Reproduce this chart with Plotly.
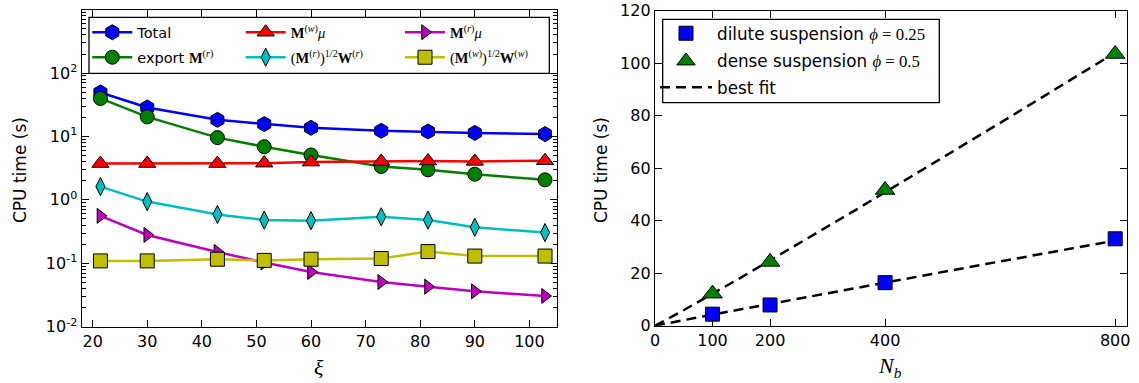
import numpy as np
import plotly.graph_objects as go

W, H = 1139, 383

# ---------------- data: left panel ----------------
xi = [21.43, 30.0, 42.86, 51.43, 60.0, 72.86, 81.43, 90.0, 102.86]
t_total = [49.5, 28.7, 18.3, 15.7, 13.7, 12.3, 12.0, 11.4, 10.9]
t_export = [39.8, 20.4, 9.6, 6.9, 5.1, 3.36, 2.98, 2.54, 2.07]
t_mw_mu = [3.75, 3.75, 3.75, 3.8, 3.95, 4.05, 4.1, 4.05, 4.15]
t_mr_sqrt_wr = [1.62, 0.94, 0.59, 0.48, 0.47, 0.54, 0.48, 0.37, 0.305]
t_mr_mu = [0.56, 0.28, 0.151, 0.103, 0.073, 0.0507, 0.0428, 0.0361, 0.0305]
t_mw_sqrt_ww = [0.109, 0.109, 0.116, 0.111, 0.116, 0.119, 0.153, 0.13, 0.13]

# ---------------- data: right panel ----------------
Nb = [100, 200, 400, 800]
t_dilute = [4.4, 7.9, 16.4, 33.1]
t_dense = [12.2, 24.3, 51.7, 103.5]

left_yticks = [0.01, 0.1, 1, 10, 100]
left_yticktext = ["10<sup>-2</sup>", "10<sup>-1</sup>", "10<sup>0</sup>", "10<sup>1</sup>", "10<sup>2</sup>"]
left_xticks = [20, 30, 40, 50, 60, 70, 80, 90, 100]
right_xticks = [0, 100, 200, 400, 800]
right_yticks = [0, 20, 40, 60, 80, 100, 120]

SERIF = "Liberation Serif"
SANS = "DejaVu Sans"


def m(s):
    return "<span style='font-family:%s'>%s</span>" % (SERIF, s)


lab_total = "Total"
lab_export = "export " + m("<b>M</b><sup>(<i>r</i>)</sup>")
lab_mw_mu = m("<b>M</b><sup>(<i>w</i>)</sup><i>μ</i>")
lab_mr_sqrt = m("(<b>M</b><sup>(<i>r</i>)</sup>)<sup>1/2</sup><b>W</b><sup>(<i>r</i>)</sup>")
lab_mr_mu = m("<b>M</b><sup>(<i>r</i>)</sup><i>μ</i>")
lab_mw_sqrt = m("(<b>M</b><sup>(<i>w</i>)</sup>)<sup>1/2</sup><b>W</b><sup>(<i>w</i>)</sup>")

fig = go.Figure()

left_series = [
    (t_total, "#0000FF", "hexagon", 15, lab_total, "legend"),
    (t_export, "#008000", "circle", 14, lab_export, "legend2"),
    (t_mw_mu, "#FF0000", "triangle-up", 15, lab_mw_mu, "legend3"),
    (t_mr_sqrt_wr, "#00BFBF", "diamond-tall", 13, lab_mr_sqrt, "legend4"),
    (t_mr_mu, "#BF00BF", "triangle-right", 13, lab_mr_mu, "legend5"),
    (t_mw_sqrt_ww, "#BFBF00", "square", 14, lab_mw_sqrt, "legend6"),
]
for ys, col, sym, sz, lab, lg in left_series:
    fig.add_trace(go.Scatter(
        x=xi, y=ys, mode="lines+markers", name=lab, legend=lg,
        line=dict(color=col, width=2.5),
        marker=dict(symbol=sym, size=sz, color=col, line=dict(color="black", width=1)),
        xaxis="x", yaxis="y",
    ))

# power-law best fits computed from the data
Nfit = np.linspace(0, 800, 161)
fits = []
for ys in (t_dilute, t_dense):
    b, loga = np.polyfit(np.log(Nb), np.log(ys), 1)
    fits.append(np.exp(loga) * Nfit ** b)

for i, f in enumerate(fits):
    fig.add_trace(go.Scatter(
        x=Nfit, y=f, mode="lines", name="best fit", legend="legend9",
        showlegend=(i == 0), line=dict(color="black", width=2.5, dash="10px,6px"),
        xaxis="x2", yaxis="y2",
    ))

phi = lambda v: m("<i>ϕ</i> = " + v)
fig.add_trace(go.Scatter(
    x=Nb, y=t_dilute, mode="markers", name="dilute suspension " + phi("0.25"), legend="legend7",
    marker=dict(symbol="square", size=14, color="#0000FF", line=dict(color="black", width=1)),
    xaxis="x2", yaxis="y2",
))
fig.add_trace(go.Scatter(
    x=Nb, y=t_dense, mode="markers", name="dense suspension " + phi("0.5"), legend="legend8",
    marker=dict(symbol="triangle-up", size=17, color="#008000", line=dict(color="black", width=1)),
    xaxis="x2", yaxis="y2",
))

px = lambda v: v / W
py = lambda v: 1 - v / H

ydom = [py(326.7), py(10.0)]
axis_common = dict(
    showgrid=False, zeroline=False, showline=True, linecolor="black", linewidth=1.3,
    mirror="ticks", ticks="inside", ticklen=7, tickwidth=1, tickcolor="black",
    tickfont=dict(family=SANS, size=16, color="black"), automargin=False,
)

minor_log = [k * 10.0 ** e for e in range(-2, 3) for k in range(2, 10)]

fig.update_layout(
    width=W, height=H, margin=dict(l=0, r=0, t=0, b=0),
    paper_bgcolor="white", plot_bgcolor="white", template="none",
    xaxis=dict(domain=[px(81.7), px(556.7)], range=[18, 105], tickvals=left_xticks,
               anchor="y", **axis_common),
    yaxis=dict(domain=ydom, type="log", range=[-2, 2.995], tickvals=left_yticks,
               ticktext=left_yticktext, anchor="x",
               minor=dict(tickvals=minor_log, ticks="inside", ticklen=4, tickcolor="black", showgrid=False),
               **axis_common),
    xaxis2=dict(domain=[px(655), px(1126.7)], range=[0, 820], tickvals=right_xticks,
                anchor="y2", **axis_common),
    yaxis2=dict(domain=[py(325.7), py(10.7)], range=[0, 120], tickvals=right_yticks,
                anchor="x2", **axis_common),
    showlegend=True,
)


def leg(xp, yp, size, iw):
    return dict(x=px(xp), y=py(yp), xanchor="left", yanchor="middle", xref="paper", yref="paper",
                bgcolor="rgba(0,0,0,0)", borderwidth=0, itemwidth=iw,
                font=dict(family=SANS, size=size, color="black"), orientation="v")


L_IW, L_FS = 40, 14.5
R_IW, R_FS = 52, 16.8
fig.update_layout(
    legend=leg(137.3 - L_IW - 10, 32.3, L_FS, L_IW),
    legend2=leg(137.3 - L_IW - 10, 57.3, L_FS, L_IW),
    legend3=leg(290.7 - L_IW - 10, 32.3, L_FS, L_IW),
    legend4=leg(290.7 - L_IW - 10, 57.3, L_FS, L_IW),
    legend5=leg(450 - L_IW - 10, 32.3, L_FS, L_IW),
    legend6=leg(450 - L_IW - 10, 57.3, L_FS, L_IW),
    legend7=leg(717 - R_IW - 10, 33.3, R_FS, R_IW),
    legend8=leg(717 - R_IW - 10, 61.0, R_FS, R_IW),
    legend9=leg(717 - R_IW - 10, 87.3, R_FS, R_IW),
)

# legend frames
fig.add_shape(type="rect", xref="paper", yref="paper", layer="below",
              x0=px(89), x1=px(549.3), y0=py(73.3), y1=py(17.3),
              line=dict(color="black", width=1.3), fillcolor="white")
fig.add_shape(type="rect", xref="paper", yref="paper", layer="below",
              x0=px(662.7), x1=px(939.3), y0=py(102.7), y1=py(19.3),
              line=dict(color="black", width=1.3), fillcolor="white")

# axis titles
title_font = dict(family=SANS, size=17, color="black")
fig.add_annotation(text="CPU time (s)", x=px(20), y=py(170), xref="paper", yref="paper",
                   xanchor="center", yanchor="middle", textangle=-90, showarrow=False, font=title_font)
fig.add_annotation(text="CPU time (s)", x=px(601), y=py(170), xref="paper", yref="paper",
                   xanchor="center", yanchor="middle", textangle=-90, showarrow=False, font=title_font)
fig.add_annotation(text="<i>ξ</i>", x=px(319), y=py(367), xref="paper", yref="paper",
                   xanchor="center", yanchor="middle", showarrow=False,
                   font=dict(family=SERIF, size=22, color="black"))
fig.add_annotation(text="<i>N</i><sub><i>b</i></sub>", x=px(890), y=py(367), xref="paper", yref="paper",
                   xanchor="center", yanchor="middle", showarrow=False,
                   font=dict(family=SERIF, size=22, color="black"))

fig.write_html("out.html")
